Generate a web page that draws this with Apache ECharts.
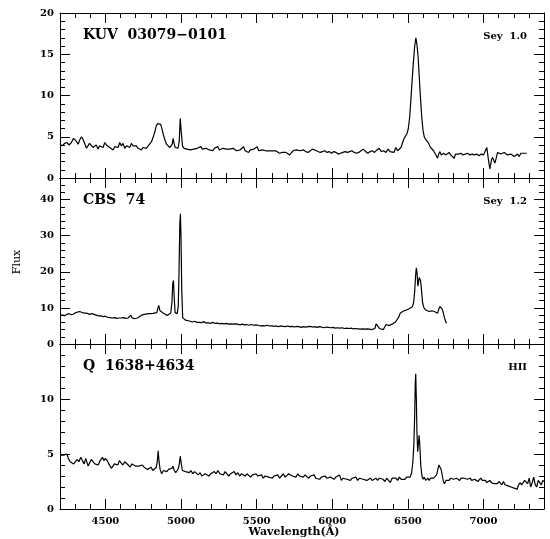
<!DOCTYPE html>
<html><head><meta charset="utf-8">
<script src="https://cdn.jsdelivr.net/npm/echarts@6/dist/echarts.min.js"></script>
<style>html,body{margin:0;padding:0;background:#fff}#c{width:550px;height:539px}</style>
</head><body><div id="c"></div>
<script>
// ---- data ----
const xTickValues = [4500, 5000, 5500, 6000, 6500, 7000];

const kuvWave = [4200,4215,4230,4245,4260,4275,4290,4300,4310,4320,4330,4342,4352,4365,4375,4385,4395,4407,4418,4430,4440,4451,4462,4474,4485,4496,4507,4518,4529,4540,4551,4562,4573,4584,4595,4606,4617,4628,4640,4650,4661,4672,4683,4694,4705,4716,4727,4738,4749,4760,4771,4783,4794,4805,4815,4827,4836,4845,4856,4866,4875,4884,4894,4904,4915,4926,4935,4942,4948,4954,4962,4972,4980,4988,4995,5002,5010,5020,5030,5040,5050,5062,5073,5085,5096,5108,5120,5131,5142,5153,5165,5176,5187,5198,5210,5221,5232,5243,5254,5265,5277,5288,5300,5312,5323,5334,5345,5356,5368,5380,5391,5402,5413,5424,5436,5447,5458,5470,5481,5492,5503,5514,5525,5537,5548,5560,5571,5582,5594,5605,5616,5627,5638,5650,5661,5672,5683,5695,5706,5718,5730,5741,5752,5763,5775,5786,5797,5810,5825,5840,5855,5870,5882,5895,5908,5920,5935,5950,5965,5980,5995,6010,6025,6040,6055,6070,6085,6100,6115,6130,6145,6160,6175,6190,6205,6220,6235,6250,6265,6280,6295,6310,6325,6340,6355,6370,6382,6395,6408,6420,6432,6445,6455,6465,6475,6486,6495,6503,6512,6520,6528,6536,6545,6553,6561,6568,6576,6584,6592,6600,6608,6617,6626,6634,6642,6650,6660,6670,6680,6688,6696,6704,6712,6720,6728,6736,6744,6752,6762,6772,6783,6795,6806,6815,6824,6835,6850,6865,6880,6895,6910,6925,6940,6955,6970,6985,7000,7012,7022,7031,7042,7053,7060,7067,7075,7084,7093,7104,7115,7126,7137,7148,7159,7170,7181,7192,7203,7214,7225,7236,7247,7258,7268,7278,7286];
const kuvFlux = [4.1,3.9,4.2,4.3,4.0,4.3,4.8,4.9,4.4,4.1,4.6,5.0,4.7,4.1,3.6,3.9,4.2,4.3,3.7,3.8,4.0,3.5,3.9,4.1,3.7,4.3,4.0,4.2,3.7,3.9,3.4,3.8,4.0,3.7,4.3,3.9,4.2,3.6,3.9,4.0,3.7,4.2,3.9,3.8,3.9,3.6,3.8,3.4,3.7,3.8,3.6,3.9,4.1,4.4,4.9,5.6,6.3,6.6,6.6,6.5,5.9,5.2,4.6,4.1,3.9,3.7,3.8,4.1,4.8,4.2,3.7,3.8,3.6,4.4,7.2,5.5,3.9,3.6,3.7,3.5,3.6,3.4,3.6,3.5,3.3,3.6,3.4,3.8,3.5,3.3,3.6,3.7,3.4,3.5,3.3,3.6,3.5,3.8,3.4,3.5,3.6,3.4,3.5,3.3,3.5,3.4,3.6,3.5,3.3,3.5,3.4,3.6,3.8,3.3,3.2,3.1,3.4,3.2,3.5,3.3,3.8,3.3,3.2,3.4,3.2,3.3,3.1,3.3,3.2,3.3,3.1,3.3,3.2,3.0,3.2,3.1,3.3,3.1,3.2,2.8,3.0,3.3,3.1,3.4,3.2,3.3,3.1,3.4,3.2,3.1,3.3,3.5,3.6,3.3,3.4,3.1,3.2,3.3,3.1,3.2,3.0,3.2,3.1,2.9,3.0,3.1,3.2,3.1,3.2,3.3,3.1,3.0,3.1,3.3,3.5,3.2,3.0,3.2,3.3,3.1,3.4,3.6,3.2,3.3,3.1,3.5,3.2,3.3,3.1,3.7,3.3,3.4,3.7,4.3,4.8,5.0,5.4,6.0,7.4,9.5,11.8,13.9,16.0,17.0,16.0,14.6,12.0,9.5,7.3,5.8,5.0,4.7,4.5,4.3,4.1,3.7,3.5,3.3,3.1,2.7,2.4,2.9,3.2,2.8,2.6,3.0,3.2,2.8,2.9,3.1,2.8,3.0,2.4,2.9,3.1,2.9,3.0,2.8,2.9,3.0,2.8,2.9,2.8,2.9,2.7,2.9,2.8,2.7,3.7,2.4,1.1,2.2,2.5,2.7,1.8,2.4,3.1,2.9,2.9,3.0,3.1,2.9,2.8,3.0,2.9,2.7,2.6,2.8,2.9,2.6,3.0,2.9,3.0,2.9,3.0];

const cbsWave = [4200,4215,4230,4245,4260,4275,4290,4305,4318,4330,4342,4355,4368,4380,4395,4410,4425,4440,4455,4470,4485,4500,4515,4530,4545,4560,4575,4590,4605,4620,4635,4650,4660,4668,4676,4690,4700,4712,4725,4740,4755,4770,4785,4800,4815,4828,4840,4848,4853,4860,4870,4882,4895,4908,4920,4932,4940,4945,4950,4955,4961,4968,4975,4982,4987,4992,4996,5000,5005,5011,5018,5030,5045,5060,5075,5090,5105,5120,5135,5150,5165,5180,5195,5210,5225,5240,5255,5270,5285,5300,5315,5330,5345,5360,5375,5390,5405,5420,5435,5450,5465,5480,5495,5510,5525,5540,5555,5570,5585,5600,5615,5630,5645,5660,5675,5690,5705,5720,5735,5750,5765,5780,5795,5810,5825,5840,5855,5870,5885,5900,5915,5930,5945,5960,5975,5990,6005,6020,6035,6050,6065,6080,6095,6110,6125,6140,6155,6170,6185,6200,6215,6230,6245,6260,6272,6282,6290,6296,6302,6312,6325,6338,6348,6356,6364,6374,6385,6396,6407,6418,6430,6440,6450,6462,6475,6490,6505,6518,6530,6538,6545,6551,6556,6561,6566,6570,6575,6579,6584,6590,6597,6605,6615,6628,6640,6651,6660,6668,6675,6686,6696,6704,6712,6720,6728,6735,6742,6750,6756];
const cbsFlux = [7.9,8.1,7.8,8.2,8.4,8.1,8.3,8.7,9.1,9.0,9.1,8.6,8.3,8.5,8.2,8.4,8.2,8.0,7.8,7.8,7.6,7.7,7.4,7.3,7.2,7.3,7.1,7.2,7.2,7.3,7.1,7.2,7.5,8.0,7.3,7.0,6.9,7.2,7.6,8.0,8.2,8.3,8.4,8.4,8.5,8.6,8.7,10.0,10.7,9.3,8.9,8.6,8.3,7.9,8.0,8.6,11.5,16.5,17.6,13.0,8.7,8.2,8.4,10.5,20.0,33.0,36.1,30.0,15.0,7.3,6.8,6.6,6.5,6.3,6.1,6.3,6.0,6.0,5.9,6.2,5.8,5.9,5.7,6.0,5.7,5.8,5.6,5.7,5.6,5.7,5.5,5.6,5.5,5.6,5.5,5.3,5.5,5.3,5.4,5.2,5.4,5.2,5.3,5.2,5.0,5.1,5.0,5.2,5.0,5.0,4.9,5.0,4.8,5.0,4.9,4.8,5.0,4.8,4.9,4.7,4.9,4.8,4.6,4.8,4.7,4.8,4.9,4.7,4.8,4.6,4.8,4.7,4.5,4.7,4.6,4.5,4.6,4.4,4.5,4.4,4.5,4.3,4.4,4.3,4.4,4.2,4.3,4.2,4.1,4.2,4.1,4.2,4.1,4.0,4.1,4.3,5.6,6.1,4.9,4.3,4.2,4.0,4.3,5.4,5.0,5.1,5.3,5.5,5.8,6.1,6.5,7.5,8.6,9.0,9.2,9.4,9.7,10.0,10.3,11.5,14.5,19.0,21.1,19.5,16.0,15.8,18.4,18.7,17.5,15.0,11.5,10.2,9.5,9.3,9.0,8.9,9.2,9.6,9.0,8.7,8.5,9.6,10.4,10.2,9.6,8.5,7.3,6.2,5.8];

const qWave = [4200,4212,4225,4238,4246,4255,4267,4279,4291,4302,4314,4325,4337,4348,4360,4370,4377,4386,4395,4407,4419,4430,4442,4453,4465,4475,4481,4490,4500,4512,4523,4533,4540,4550,4560,4570,4582,4593,4604,4616,4628,4640,4651,4663,4675,4686,4698,4710,4721,4733,4745,4756,4768,4779,4791,4802,4814,4826,4837,4844,4849,4855,4862,4872,4884,4895,4906,4918,4930,4940,4947,4955,4965,4975,4983,4990,4995,5001,5009,5020,5030,5042,5055,5066,5078,5090,5102,5114,5126,5138,5150,5160,5172,5184,5196,5208,5220,5232,5244,5256,5268,5280,5292,5304,5316,5328,5340,5352,5364,5376,5388,5400,5412,5424,5436,5448,5460,5472,5484,5496,5508,5520,5532,5544,5556,5568,5580,5592,5604,5616,5628,5640,5652,5664,5676,5688,5700,5712,5724,5736,5748,5760,5772,5784,5796,5808,5820,5832,5844,5856,5868,5880,5892,5904,5916,5928,5940,5952,5964,5976,5988,6000,6012,6024,6036,6048,6060,6072,6084,6096,6108,6120,6132,6144,6156,6168,6180,6192,6204,6216,6228,6240,6252,6264,6276,6288,6300,6312,6324,6336,6348,6360,6372,6384,6396,6408,6420,6432,6444,6456,6468,6480,6492,6505,6515,6525,6533,6540,6545,6549,6552,6556,6560,6565,6570,6574,6579,6585,6593,6601,6609,6617,6625,6633,6641,6650,6660,6670,6680,6690,6698,6705,6712,6720,6728,6735,6742,6752,6762,6772,6782,6792,6802,6812,6822,6832,6842,6852,6862,6872,6882,6892,6902,6912,6922,6932,6942,6952,6962,6972,6982,6992,7002,7012,7022,7032,7042,7052,7062,7072,7082,7092,7102,7112,7122,7132,7142,7152,7162,7172,7182,7192,7202,7212,7222,7232,7242,7252,7262,7272,7282,7292,7302,7312,7322,7332,7342,7352,7362,7372,7382,7392,7400];
const qFlux = [4.9,4.9,4.9,4.8,5.0,4.6,4.3,4.4,4.1,4.3,4.5,4.3,4.7,4.4,4.1,4.6,4.5,3.9,4.0,4.5,4.3,4.1,4.2,4.0,4.4,4.5,4.7,4.4,4.6,4.4,4.1,4.2,3.7,3.9,4.1,4.2,4.0,4.4,4.2,4.0,4.3,4.2,4.0,3.8,4.1,4.1,3.9,4.0,3.9,3.8,4.0,3.8,3.9,3.6,3.7,3.8,3.5,3.6,3.8,4.4,5.3,4.3,3.6,3.2,3.5,3.5,3.4,3.6,3.5,3.7,3.9,3.5,3.3,3.5,3.7,4.2,4.8,4.2,3.5,3.6,3.4,3.5,3.3,3.5,3.2,3.4,3.3,3.1,3.3,3.0,2.9,3.2,3.3,3.0,3.2,3.1,3.4,3.2,3.5,3.2,3.3,3.1,3.4,3.2,3.0,3.2,3.1,3.4,3.1,3.3,3.0,3.2,3.1,3.0,3.2,3.1,2.9,3.1,3.0,3.2,3.0,2.9,3.1,2.8,3.0,3.1,2.9,3.0,2.8,3.0,2.9,3.1,2.8,3.0,3.2,2.9,3.0,3.2,3.3,3.0,3.1,2.9,3.2,3.0,3.1,2.9,3.1,3.0,2.8,3.0,2.9,3.1,2.8,2.9,2.7,2.9,2.8,3.0,2.8,2.7,2.9,2.8,2.7,2.9,2.8,3.1,2.6,2.8,2.9,2.7,2.8,2.6,2.8,2.7,2.9,2.6,2.8,2.9,2.7,2.8,2.6,2.7,2.8,2.6,2.7,2.8,2.6,2.8,2.9,2.7,2.5,2.8,2.7,2.4,2.8,2.7,2.8,2.6,2.9,2.7,2.8,2.7,2.9,2.8,2.9,3.3,4.3,6.0,8.5,11.5,12.3,10.0,7.0,5.2,6.0,6.7,5.8,4.0,3.0,2.7,2.9,2.6,2.7,2.8,2.6,2.8,2.7,2.8,2.9,3.1,3.6,4.0,3.9,3.6,3.0,2.5,2.3,2.6,2.7,2.6,2.8,2.9,2.7,2.6,2.8,2.7,2.6,2.8,2.7,2.8,2.9,2.7,2.6,2.8,2.6,2.5,2.7,2.6,2.5,2.6,2.8,2.6,2.5,2.6,2.4,2.5,2.6,2.4,2.5,2.3,2.4,2.3,2.5,2.4,2.2,2.5,2.2,2.3,2.1,2.2,2.0,2.1,1.9,2.0,1.8,2.2,2.4,2.2,2.4,2.6,2.5,2.3,2.8,2.0,2.4,2.9,2.2,2.0,2.6,2.4,2.2,2.6,2.5];

const panelNames = ['KUV  03079\u22120101', 'CBS  74', 'Q  1638+4634'];
const panelTypes = ['Sey  1.0', 'Sey  1.2', 'HII'];
const yMaxes = [20, 46, 15];
const yMajorSteps = [5, 10, 5];
const yMinorSteps = [1, 2, 1];

// ---- layout ----
const FONT = 'DejaVu Serif';
const gridTops = [13, 178, 344];
const gridHeights = [165, 166, 165];
const gridLeft = 60, gridRight = 6;
const waves = [kuvWave, cbsWave, qWave];
const fluxes = [kuvFlux, cbsFlux, qFlux];

const black = { color: '#000', width: 1 };
const grids = [], xAxes = [], yAxes = [], series = [];

for (let g = 0; g < 3; g++) {
  grids.push({ left: gridLeft, right: gridRight, top: gridTops[g], height: gridHeights[g], containLabel: false });
  const lastPanel = g === 2;
  ['bottom', 'top'].forEach(pos => {
    xAxes.push({
      type: 'value', gridIndex: g, position: pos, min: 4200, max: 7400,
      axisLine: { show: true, onZero: false, lineStyle: black },
      axisTick: { show: true, inside: true, length: 10, customValues: xTickValues, lineStyle: black },
      axisLabel: { show: lastPanel && pos === 'bottom', customValues: xTickValues, margin: 7,
        formatter: v => String(v),
        color: '#000', fontFamily: FONT, fontWeight: 'bold', fontSize: 10 },
      splitLine: { show: false }
    });
    xAxes.push({
      type: 'value', gridIndex: g, position: pos, min: 4200, max: 7400, interval: 100,
      axisLine: { show: false, onZero: false },
      axisTick: { show: true, inside: true, length: 5, lineStyle: black },
      axisLabel: { show: false }, splitLine: { show: false }
    });
  });
  ['left', 'right'].forEach(pos => {
    yAxes.push({
      type: 'value', gridIndex: g, position: pos, min: 0, max: yMaxes[g], interval: yMajorSteps[g],
      axisLine: { show: true, onZero: false, lineStyle: black },
      axisTick: { show: true, inside: true, length: 10, lineStyle: black },
      axisLabel: { show: pos === 'left', showMaxLabel: g === 0, showMinLabel: true, margin: 6,
        formatter: v => String(v),
        color: '#000', fontFamily: FONT, fontWeight: 'bold', fontSize: 10 },
      splitLine: { show: false }
    });
    yAxes.push({
      type: 'value', gridIndex: g, position: pos, min: 0, max: yMaxes[g], interval: yMinorSteps[g],
      axisLine: { show: false, onZero: false },
      axisTick: { show: true, inside: true, length: 5, lineStyle: black },
      axisLabel: { show: false }, splitLine: { show: false }
    });
  });
  series.push({
    type: 'line', xAxisIndex: 4 * g, yAxisIndex: 4 * g,
    data: waves[g].map((w, i) => [w, fluxes[g][i]]),
    showSymbol: false, symbol: 'none', smooth: false,
    lineStyle: { color: '#000', width: 1.2 },
    clip: true, silent: true
  });
}

const graphic = [];
for (let g = 0; g < 3; g++) {
  const cy = gridTops[g] + 24;
  graphic.push({ type: 'text', left: 83, top: cy - 9,
    style: { text: panelNames[g], fill: '#000', font: 'bold 14px "' + FONT + '"' } });
  graphic.push({ type: 'text', right: 23, top: cy - 6,
    style: { text: panelTypes[g], fill: '#000', font: 'bold 10px "' + FONT + '"' } });
}
graphic.push({ type: 'text', x: 17, y: 262, rotation: Math.PI / 2,
  style: { text: 'Flux', fill: '#000', font: '11px "' + FONT + '"', textAlign: 'center', textVerticalAlign: 'middle' } });
graphic.push({ type: 'text', x: 294, y: 532,
  style: { text: 'Wavelength(\u00c5)', fill: '#000', font: 'bold 11px "' + FONT + '"', textAlign: 'center', textVerticalAlign: 'middle' } });

const chart = echarts.init(document.getElementById('c'), null, { renderer: 'canvas' });
chart.setOption({
  animation: false,
  backgroundColor: '#fff',
  grid: grids, xAxis: xAxes, yAxis: yAxes, series: series, graphic: graphic
});
</script></body></html>
